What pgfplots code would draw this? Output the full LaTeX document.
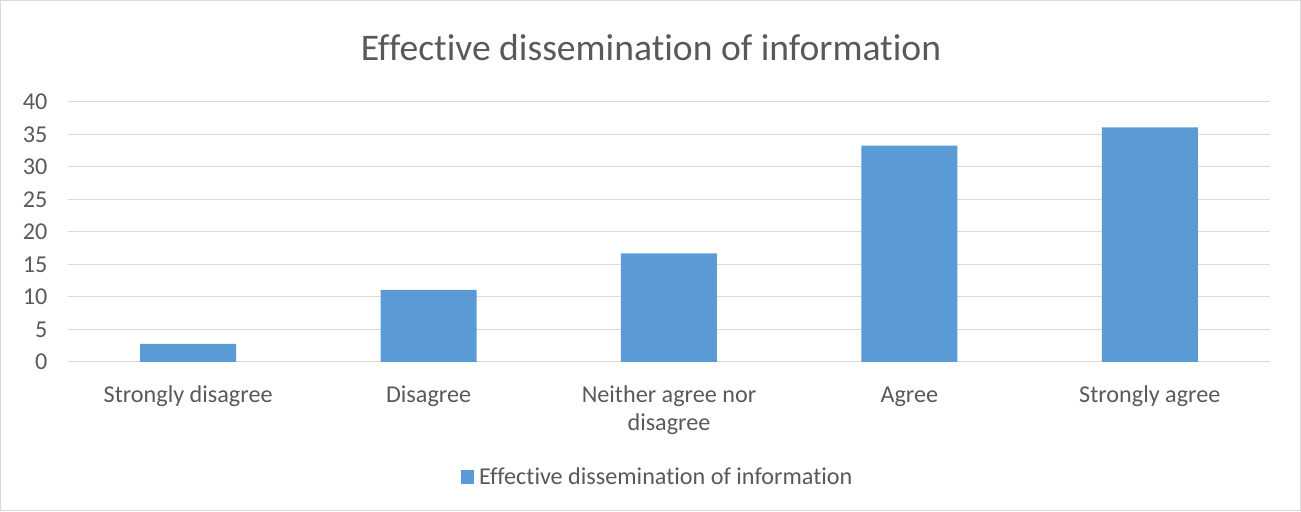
\documentclass[border=0pt]{standalone}
\usepackage{pgfplots}
\pgfplotsset{compat=1.18}
\usepackage{fontspec}
\setmainfont{Carlito}[Ligatures={NoCommon}]
\definecolor{barblue}{HTML}{5B9BD5}
\definecolor{gridgray}{HTML}{D9D9D9}
\definecolor{textgray}{HTML}{595959}
\begin{document}
\begin{tikzpicture}[x=1bp,y=1bp]
% outer chart frame (1301x511 px at 0.75 bp per px)
\draw[gridgray, line width=0.75bp] (-50.6,-111.4) rectangle (924.4,271.1);
\begin{axis}[
    at={(0,0)}, anchor=south west,
    scale only axis,
    width=901.5bp, height=195bp,
    ybar, bar width=72bp,
    xmin=-0.5, xmax=4.5,
    ymin=0, ymax=40,
    ytick={0,5,...,40},
    xtick=data,
    xticklabels={\strut Strongly disagree, \strut Disagree, \strut Neither agree nor\\disagree, \strut Agree, \strut Strongly agree},
    xticklabel style={align=center, font=\fontsize{18.2}{21}\selectfont, text=textgray},
    yticklabel style={font=\fontsize{18.2}{21}\selectfont, text=textgray},
    /pgf/number format/assume math mode=true,
    major tick length=0pt,
    axis line style={draw=none},
    ymajorgrids,
    grid style={gridgray, line width=0.75bp},
    xticklabel shift=12bp,
    yticklabel shift=12bp,
    legend style={at={(0.4907,-0.443)}, anchor=center, draw=none,
      font=\fontsize{18.2}{21}\selectfont, text=textgray},
    legend image code/.code={\fill[barblue] (0bp,-5bp) rectangle (10bp,5bp);},
    ]
\addplot[fill=barblue, draw=none] coordinates {(0,2.8) (1,11.1) (2,16.7) (3,33.3) (4,36.1)};
\addlegendentry{\hspace{2bp}Effective dissemination of information}
\end{axis}
\node[text=textgray, font=\fontsize{28.3}{34}\selectfont] at (437.25,236) {Effective dissemination of information};
\end{tikzpicture}
\end{document}
